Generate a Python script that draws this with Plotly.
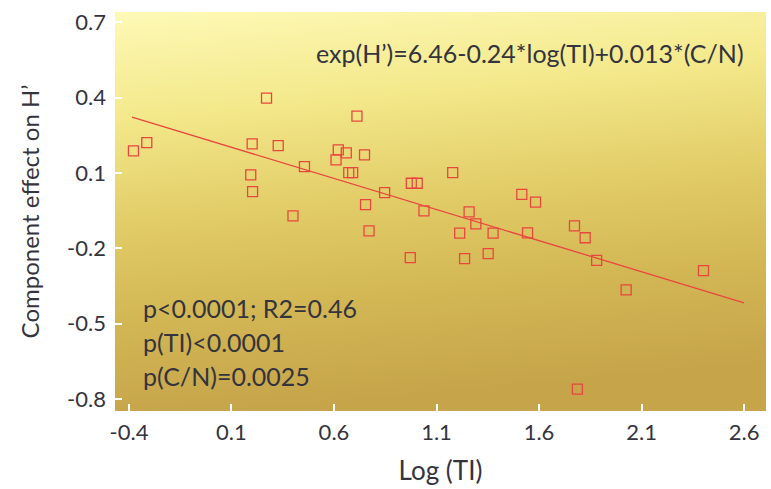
import base64
import plotly.graph_objects as go

# ---- data ----
log_ti = [-0.378, -0.313, 0.271, 0.201, 0.328, 0.194, 0.203, 0.456, 0.400,
          0.712, 0.621, 0.660, 0.610, 0.749, 0.672, 0.691, 0.847, 0.754,
          0.771, 0.977, 1.006, 1.039, 1.179, 0.972, 1.237, 1.259, 1.213,
          1.292, 1.376, 1.352, 1.516, 1.583, 1.544, 1.773, 1.825, 1.881,
          2.025, 2.402, 1.787]
effect = [0.188, 0.221, 0.398, 0.216, 0.209, 0.092, 0.026, 0.125, -0.071,
          0.326, 0.192, 0.180, 0.152, 0.172, 0.101, 0.101, 0.022, -0.026,
          -0.131, 0.059, 0.059, -0.051, 0.101, -0.237, -0.241, -0.055, -0.140,
          -0.103, -0.140, -0.221, 0.015, -0.016, -0.139, -0.111, -0.158, -0.248,
          -0.366, -0.289, -0.761]
fit_x = [-0.385, 2.60]
fit_y = [0.322, -0.417]
x_ticks = [-0.4, 0.1, 0.6, 1.1, 1.6, 2.1, 2.6]
y_ticks = [0.7, 0.4, 0.1, -0.2, -0.5, -0.8]
equation = "exp(H\u2019)=6.46-0.24*log(TI)+0.013*(C/N)"
stats_lines = ["p<0.0001; R2=0.46", "p(TI)<0.0001", "p(C/N)=0.0025"]

FONT = "Lato"
TXT = "#34343e"
RED = "#e8473e"

svg = """<svg xmlns='http://www.w3.org/2000/svg' width='651' height='399' preserveAspectRatio='none'>
<defs><linearGradient id='g' x1='0.1' y1='0' x2='0.25' y2='1'>
<stop offset='0' stop-color='#fdf8b4'/>
<stop offset='0.25' stop-color='#f3e88a'/>
<stop offset='0.5' stop-color='#e2cd68'/>
<stop offset='0.75' stop-color='#d2b654'/>
<stop offset='1' stop-color='#c6a44a'/>
</linearGradient></defs>
<rect width='651' height='399' fill='url(#g)'/></svg>"""
bg_src = "data:image/svg+xml;base64," + base64.b64encode(svg.encode()).decode()

fig = go.Figure()
fig.add_trace(go.Scatter(x=fit_x, y=fit_y, mode="lines",
                         line=dict(color=RED, width=1.3), hoverinfo="skip"))
fig.add_trace(go.Scatter(x=log_ti, y=effect, mode="markers",
                         marker=dict(symbol="square-open", size=10,
                                     color=RED, line=dict(width=1.3, color=RED))))

fig.add_annotation(x=1, y=1, xref="paper", yref="paper", xanchor="right",
                   yanchor="middle", xshift=-20, yshift=-41, text=equation,
                   showarrow=False, font=dict(family=FONT, size=25, color=TXT))
for i, line in enumerate(stats_lines):
    fig.add_annotation(x=0, y=0, xref="paper", yref="paper", xanchor="left",
                       yanchor="middle", xshift=26, yshift=103 - 34 * i,
                       text=line, showarrow=False,
                       font=dict(family=FONT, size=25, color=TXT))

fig.update_layout(
    width=771, height=489,
    margin=dict(l=115, r=5, t=12, b=78),
    paper_bgcolor="white", plot_bgcolor="#e2cd68",
    showlegend=False,
    font=dict(family=FONT, color=TXT, size=22),
    images=[dict(source=bg_src, xref="paper", yref="paper", x=0, y=1,
                 sizex=1, sizey=1, sizing="stretch", layer="below",
                 xanchor="left", yanchor="top")],
)
fig.update_xaxes(range=[-0.468, 2.707], tickvals=x_ticks,
                 ticktext=[f"{v:.1f}" for v in x_ticks],
                 showgrid=False, zeroline=False, showline=False,
                 ticks="inside", ticklen=7, tickcolor="white", tickwidth=1.5,
                 ticklabelstandoff=6,
                 tickfont=dict(size=22, color=TXT),
                 title=dict(text="Log (TI)", font=dict(size=26, color=TXT), standoff=17))
fig.update_yaxes(range=[-0.848, 0.741], tickvals=y_ticks,
                 ticktext=[f"{v:.1f}" for v in y_ticks],
                 showgrid=False, zeroline=False, showline=False,
                 ticks="inside", ticklen=7, tickcolor="white", tickwidth=1.5,
                 ticklabelstandoff=8,
                 tickfont=dict(size=22, color=TXT),
                 title=dict(text="Component effect on H\u2019", font=dict(size=24, color=TXT), standoff=20))

fig.write_html("out.html")
